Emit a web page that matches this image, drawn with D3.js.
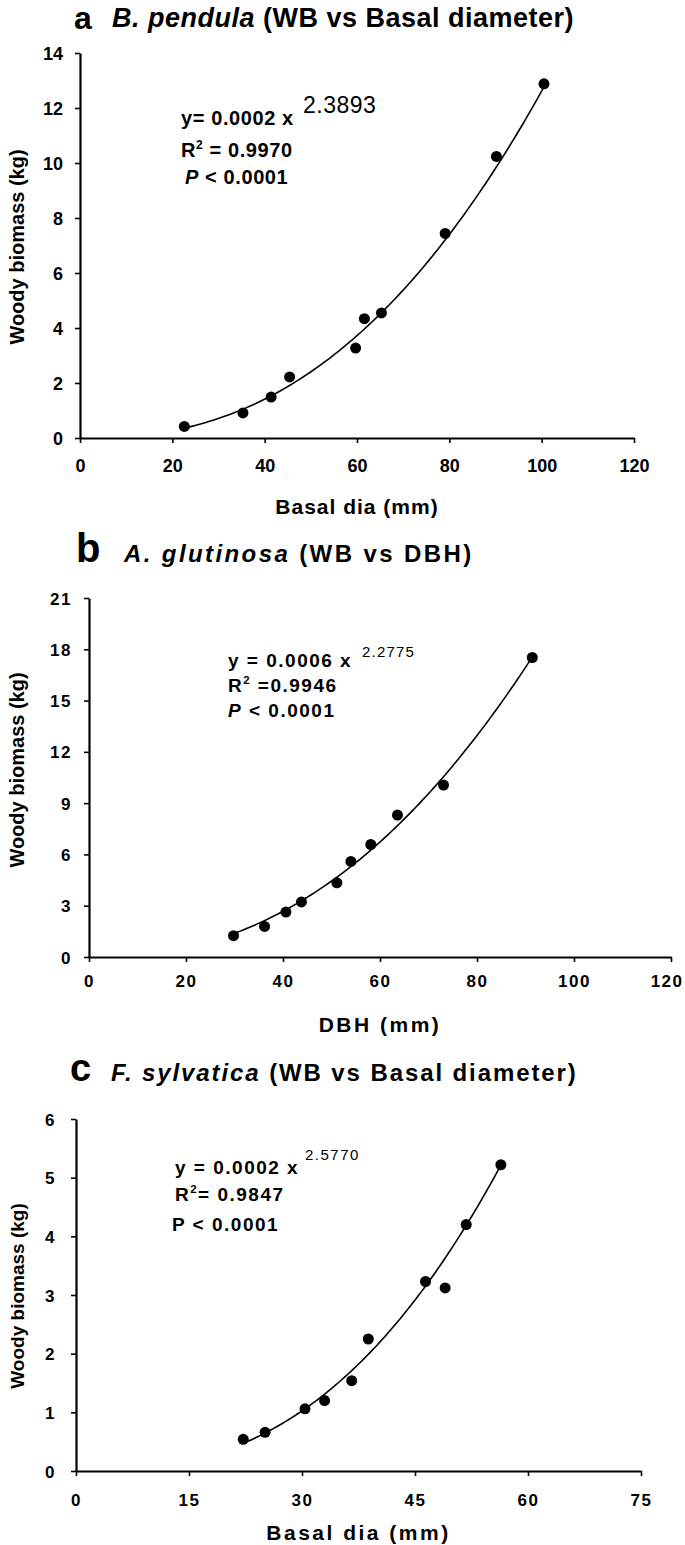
<!DOCTYPE html>
<html>
<head>
<meta charset="utf-8">
<script src="https://cdn.jsdelivr.net/npm/d3@7"></script>
<style>
  html, body { margin: 0; padding: 0; background: #fff; }
  svg { display: block; }
  text { font-family: "Liberation Sans", Arial, Helvetica, sans-serif; fill: #000; }
</style>
</head>
<body>
<script>
// ---------------- DATA ----------------
const pendulaDia = [22.6, 35.3, 41.4, 45.4, 59.7, 61.6, 65.3, 79.1, 90.2, 100.5];
const pendulaWB  = [0.42, 0.91, 1.49, 2.22, 3.27, 4.34, 4.55, 7.44, 10.24, 12.88];
const pendulaXTicks = [0, 20, 40, 60, 80, 100, 120];
const pendulaYTicks = [0, 2, 4, 6, 8, 10, 12, 14];

const glutinosaDBH = [29.8, 36.2, 40.6, 43.8, 51.1, 54.0, 58.1, 63.6, 73.1, 91.4];
const glutinosaWB  = [1.25, 1.79, 2.63, 3.22, 4.34, 5.59, 6.58, 8.30, 10.06, 17.52];
const glutinosaXTicks = [0, 20, 40, 60, 80, 100, 120];
const glutinosaYTicks = [0, 3, 6, 9, 12, 15, 18, 21];

const sylvaticaDia = [22.2, 25.1, 30.4, 33.0, 36.6, 38.8, 46.4, 49.0, 51.8, 56.4];
const sylvaticaWB  = [0.54, 0.66, 1.06, 1.20, 1.54, 2.25, 3.23, 3.12, 4.20, 5.22];
const sylvaticaXTicks = [0, 15, 30, 45, 60, 75];
const sylvaticaYTicks = [0, 1, 2, 3, 4, 5, 6];

// power trend lines y = a * x^b (exponents as printed on the chart)
const fitCoef = [0.00021, 0.0006, 0.00016];
const fitExp  = [2.3893, 2.2775, 2.5770];

const panelLetters = ["a", "b", "c"];
const speciesNames = ["B. pendula", "A. glutinosa", "F. sylvatica"];
const titleRest = [" (WB vs Basal diameter)", " (WB vs DBH)", " (WB vs Basal diameter)"];
const xTitles = ["Basal dia (mm)", "DBH (mm)", "Basal dia (mm)"];
const yTitle = "Woody biomass (kg)";
const eqCoef = ["y= 0.0002 x", "y = 0.0006 x", "y = 0.0002 x"];
const eqExp = ["2.3893", "2.2775", "2.5770"];
const r2Text = [" = 0.9970", "  =0.9946", "= 0.9847"];
const pText = ["< 0.0001", "< 0.0001", "< 0.0001"];

// ---------------- LAYOUT ----------------
const W = 685, H = 1545;
const svg = d3.select("body").append("svg").attr("width", W).attr("height", H);
svg.append("rect").attr("width", W).attr("height", H).attr("fill", "#fff");

const panels = [
  { left: 80, right: 634, bottom: 438, top: 53,
    titleY: 27, letterY: 29, letterX: 74, titleX: 112, letterSize: 32, titleSize: 27, titleLS: 0.5,
    tickSize: 18, tickLS: 0, xLabBase: 472, yLabGap: 17,
    xTitleBase: 514, xTitleSize: 21, xTitleLS: 1, yTitleCx: 247, yTitleX: 24, yTitleSize: 20,
    eq: { x: 181, y: 125, size: 20, ls: 0.6, supX: 303, supY: 113, supSize: 23, supW: 400, supLS: 0.5,
          r2Y: 157, pX: 185, pY: 184, pItalic: true } },
  { left: 89, right: 671, bottom: 957, top: 598,
    titleY: 562, letterY: 562, letterX: 76, titleX: 124, letterSize: 40, titleSize: 24, titleLS: 2.4,
    tickSize: 17, tickLS: 1.5, xLabBase: 987, yLabGap: 17,
    xTitleBase: 1032, xTitleSize: 21, xTitleLS: 2.5, yTitleCx: 770, yTitleX: 24, yTitleSize: 20,
    eq: { x: 228, y: 667, size: 19, ls: 1.5, supX: 362, supY: 657, supSize: 15, supW: 400, supLS: 1.2,
          r2Y: 692, pX: 228, pY: 717, pItalic: true } },
  { left: 76, right: 641, bottom: 1471, top: 1119,
    titleY: 1081, letterY: 1081, letterX: 70, titleX: 111, letterSize: 38, titleSize: 24, titleLS: 1.9,
    tickSize: 17, tickLS: 1.5, xLabBase: 1506, yLabGap: 20,
    xTitleBase: 1540, xTitleSize: 21, xTitleLS: 2.5, yTitleCx: 1296, yTitleX: 24, yTitleSize: 19,
    eq: { x: 175, y: 1174, size: 19, ls: 1.5, supX: 305, supY: 1160, supSize: 15, supW: 400, supLS: 1.5,
          r2Y: 1201, pX: 172, pY: 1231, pItalic: false } }
];

const series = [
  { xs: pendulaDia, ys: pendulaWB, xt: pendulaXTicks, yt: pendulaYTicks },
  { xs: glutinosaDBH, ys: glutinosaWB, xt: glutinosaXTicks, yt: glutinosaYTicks },
  { xs: sylvaticaDia, ys: sylvaticaWB, xt: sylvaticaXTicks, yt: sylvaticaYTicks }
];

panels.forEach((p, i) => {
  const s = series[i];
  const g = svg.append("g");
  const x = d3.scaleLinear().domain([s.xt[0], s.xt[s.xt.length - 1]]).range([p.left, p.right]);
  const y = d3.scaleLinear().domain([s.yt[0], s.yt[s.yt.length - 1]]).range([p.bottom, p.top]);

  // title
  g.append("text").attr("x", p.letterX).attr("y", p.letterY)
    .attr("font-size", p.letterSize).attr("font-weight", "bold").text(panelLetters[i]);
  const t = g.append("text").attr("x", p.titleX).attr("y", p.titleY)
    .attr("font-size", p.titleSize).attr("font-weight", "bold").attr("letter-spacing", p.titleLS);
  t.append("tspan").attr("font-style", "italic").text(speciesNames[i]);
  t.append("tspan").text(titleRest[i]);

  // axes
  const xAxis = d3.axisBottom(x).tickValues(s.xt).tickSize(5).tickSizeOuter(0).tickFormat(d3.format("d"));
  const yAxis = d3.axisLeft(y).tickValues(s.yt).tickSize(5).tickSizeOuter(0).tickFormat(d3.format("d"));

  const gx = g.append("g").attr("transform", `translate(0,${p.bottom})`).call(xAxis);
  const gy = g.append("g").attr("transform", `translate(${p.left},0)`).call(yAxis);
  [gx, gy].forEach(ax => {
    ax.select(".domain").attr("stroke", "#000").attr("stroke-width", 2.2);
    ax.selectAll(".tick line").attr("stroke", "#000").attr("stroke-width", 1.6);
    ax.selectAll(".tick text").attr("fill", "#000")
      .attr("font-family", "\"Liberation Sans\", Arial, sans-serif")
      .attr("font-size", p.tickSize).attr("font-weight", "bold")
      .attr("letter-spacing", p.tickLS);
  });
  gx.selectAll(".tick text").attr("y", p.xLabBase - p.bottom).attr("dy", null);
  gy.selectAll(".tick text").attr("x", -p.yLabGap).attr("dy", "0.36em");
  // keep a label that would run past the right edge inside the picture
  gx.selectAll(".tick text").each(function (d) {
    const bb = this.getBBox();
    const overflow = x(d) + bb.width / 2 - (W - 2);
    if (overflow > 0) d3.select(this).attr("x", -overflow);
  });

  // axis titles
  g.append("text").attr("x", (p.left + p.right) / 2).attr("y", p.xTitleBase)
    .attr("text-anchor", "middle").attr("font-size", p.xTitleSize).attr("font-weight", "bold")
    .attr("letter-spacing", p.xTitleLS).text(xTitles[i]);
  g.append("text").attr("transform", `translate(${p.yTitleX},${p.yTitleCx}) rotate(-90)`)
    .attr("text-anchor", "middle").attr("font-size", p.yTitleSize).attr("font-weight", "bold")
    .text(yTitle);

  // trend curve
  const f = v => fitCoef[i] * Math.pow(v, fitExp[i]);
  const [xmin, xmax] = d3.extent(s.xs);
  const curveX = d3.range(0, 101).map(k => xmin + (xmax - xmin) * k / 100);
  g.append("path")
    .attr("d", d3.line().x(d => x(d)).y(d => y(f(d)))(curveX))
    .attr("fill", "none").attr("stroke", "#000").attr("stroke-width", 1.6);

  // points
  g.selectAll("circle.pt").data(s.xs.map((v, k) => [v, s.ys[k]])).enter()
    .append("circle").attr("class", "pt")
    .attr("cx", d => x(d[0])).attr("cy", d => y(d[1])).attr("r", 5.5).attr("fill", "#000");

  // equation
  const e = p.eq;
  g.append("text").attr("x", e.x).attr("y", e.y).attr("font-size", e.size)
    .attr("font-weight", "bold").attr("letter-spacing", e.ls).text(eqCoef[i]);
  g.append("text").attr("x", e.supX).attr("y", e.supY).attr("font-size", e.supSize)
    .attr("font-weight", e.supW).attr("letter-spacing", e.supLS).text(eqExp[i]);
  const r = g.append("text").attr("x", e.x).attr("y", e.r2Y).attr("font-size", e.size)
    .attr("font-weight", "bold").attr("letter-spacing", e.ls);
  r.append("tspan").text("R");
  r.append("tspan").attr("font-size", e.size * 0.6).attr("dy", -e.size * 0.4).text("2");
  r.append("tspan").attr("dy", e.size * 0.4).text(r2Text[i]);
  const pt = g.append("text").attr("x", e.pX).attr("y", e.pY).attr("font-size", e.size)
    .attr("font-weight", "bold").attr("letter-spacing", e.ls);
  pt.append("tspan").attr("font-style", e.pItalic ? "italic" : "normal").text("P");
  pt.append("tspan").text(" " + pText[i]);
});
</script>
</body>
</html>
